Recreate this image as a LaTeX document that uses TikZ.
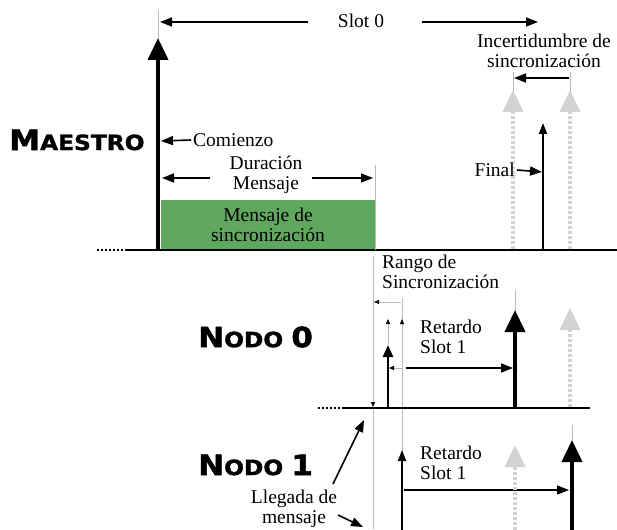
\documentclass[tikz,border=0pt]{standalone}
\usepackage{fontspec}
\setmainfont{Liberation Serif}
\newfontfamily\heavyfont{DejaVu Sans}[BoldFeatures={FakeBold=1.5}]
\usetikzlibrary{arrows.meta}
\definecolor{msgreen}{RGB}{96,168,96}
\newcommand{\capslabel}[2]{\scalebox{1.11}[1]{{\fontsize{28}{28}\selectfont #1}{\fontsize{21}{21}\selectfont #2}}}
\begin{document}
\begin{tikzpicture}[x=1pt, y=-1pt]
    \tikzstyle{axis} = [line width=2.5pt]
    \tikzstyle{stub} = [line width=2pt, dash pattern=on 2pt off 2pt]
    \tikzstyle{tick} = [gray!55, line width=0.6pt]
    \tikzstyle{bigpulse} = [line width=4pt, -{Triangle[width=20pt,length=22pt]}]
    \tikzstyle{midpulse} = [line width=2.5pt, -{Triangle[width=10pt,length=12pt]}]
    \tikzstyle{thinpulse} = [line width=2pt, -{Triangle[width=8pt,length=11pt]}]
    \tikzstyle{ghost} = [line width=4pt, gray!35, dash pattern=on 3pt off 2pt, -{Triangle[width=20pt,length=22pt]}]
    \tikzstyle{span} = [line width=1.6pt, -{Triangle[width=9pt,length=12pt]}]
    \tikzstyle{tiny} = [tick, -{Triangle[width=4pt,length=5pt,color=black]}]
    \tikzstyle{txt} = [font=\fontsize{19.5}{20}\selectfont, align=center, inner sep=2pt]
    \tikzstyle{lbl} = [font=\heavyfont\bfseries, inner sep=0pt, anchor=west]
    \useasboundingbox (0,0) rectangle (617,529);

    % maestro
    \fill[msgreen] (161,200) rectangle (375,249);
    \node[txt] (msg) at (268,225) {Mensaje de\\sincronización};
    \draw[stub] (97,250) -- (125,250);
    \draw[axis] (125,250) -- (617,250);
    \node[lbl] (maestro) at (9,140) {\capslabel{M}{AESTRO}};

    \coordinate (start) at (158,251);
    \coordinate (starttip) at (158,38);
    \draw[tick] (158,10) -- (158,40);
    \draw[bigpulse] (start) -- (starttip);

    \node[txt] (slot) at (361,21) {Slot 0};
    \coordinate (slotl) at (308,22);
    \coordinate (slotr) at (422,22);
    \coordinate (slota) at (160,22);
    \coordinate (slotb) at (538,22);
    \draw[span] (slotl) -- (slota);
    \draw[span] (slotr) -- (slotb);

    \node[txt, anchor=west] (com) at (191,140) {Comienzo};
    \coordinate (comtip) at (161,141);
    \draw[span] (com.west) -- (comtip);

    \node[txt] (dur) at (266,175) {Duración\\Mensaje};
    \coordinate (durl) at (210,178);
    \coordinate (durr) at (312,178);
    \coordinate (dura) at (162,178);
    \coordinate (durb) at (373,178);
    \draw[span] (durl) -- (dura);
    \draw[span] (durr) -- (durb);
    \draw[tick] (375,165) -- (375,250);

    \node[txt] (inc) at (544,51) {Incertidumbre de\\sincronización};
    \coordinate (inca) at (514,78);
    \coordinate (incb) at (569,78);
    \draw[span, {Triangle[width=9pt,length=12pt]}-] (inca) -- (incb);
    \draw[tick] (513,72) -- (513,92);
    \draw[tick] (570,72) -- (570,92);
    \draw[ghost] (513,249) -- (513,90);
    \draw[ghost] (570,249) -- (570,90);
    \draw[thinpulse] (543,251) -- (543,123);
    \node[txt, anchor=east] (fin) at (517,170) {Final};
    \coordinate (fintip) at (542,172);
    \draw[span] (fin.east) -- (fintip);

    % nodo 0
    \node[txt, anchor=north west, align=left, inner sep=0pt] (rango) at (382,255) {Rango de\\Sincronización};
    \coordinate (r0) at (373,256);
    \coordinate (r1) at (373,407);
    \draw[tiny] (r0) -- (r1);
    \draw[tick] (r1) -- (373,529);
    \draw[tick] (402,298) -- (402,529);
    \coordinate (ra) at (374,302);
    \coordinate (rb) at (401,302);
    \draw[tiny, {Triangle[width=4pt,length=5pt,color=black]}-] (ra) -- (rb);
    \draw[tiny] (388,345) -- (388,319);
    \draw[tiny] (402,330) -- (402,319);

    \draw[stub] (318,408) -- (343,408);
    \draw[axis] (343,408) -- (590,408);
    \node[lbl] (nodo0) at (198,337) {\capslabel{N}{ODO \fontsize{28}{28}\selectfont0}};

    \draw[midpulse] (388,409) -- (388,345);
    \draw[tiny] (402,368) -- (389,368);
    \node[txt, anchor=west, align=left] (ret0) at (418,337) {Retardo\\Slot 1};
    \coordinate (ret0a) at (406,368);
    \coordinate (ret0b) at (513,368);
    \draw[span] (ret0a) -- (ret0b);
    \draw[tick] (515,290) -- (515,312);
    \draw[bigpulse] (515,409) -- (515,310);
    \draw[ghost] (570,407) -- (570,308);

    % nodo 1
    \node[lbl] (nodo1) at (198,465) {\capslabel{N}{ODO \fontsize{28}{28}\selectfont1}};
    \draw[thinpulse] (402,530) -- (402,450);
    \node[txt, anchor=west, align=left] (ret1) at (418,463) {Retardo\\Slot 1};
    \coordinate (ret1a) at (404,490);
    \coordinate (ret1b) at (569,490);
    \draw[span] (ret1a) -- (ret1b);
    \draw[ghost] (515,530) -- (515,445);
    \draw[tick] (572,425) -- (572,442);
    \draw[bigpulse] (572,530) -- (572,440);

    \node[txt, inner sep=0pt] (lleg) at (294,509) {Llegada de\\mensaje};
    \coordinate (llega) at (333,484);
    \coordinate (llegb) at (364,420);
    \coordinate (llegc) at (338,515);
    \coordinate (llegd) at (363,527);
    \draw[span] (llega) -- (llegb);
    \draw[span] (llegc) -- (llegd);
\end{tikzpicture}
\end{document}
